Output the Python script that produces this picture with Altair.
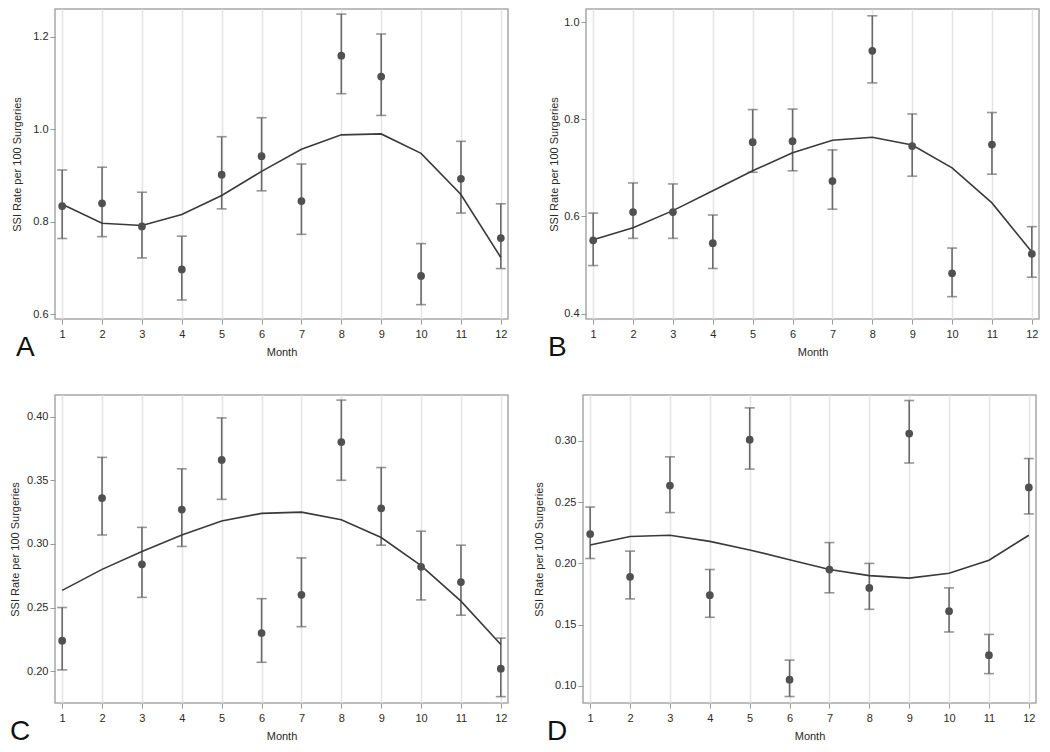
import altair as alt
import pandas as pd

months = list(range(1, 13))

# Panel A
a_rate = [0.834, 0.840, 0.790, 0.697, 0.902, 0.942, 0.845, 1.159, 1.114, 0.683, 0.893, 0.765]
a_lo = [0.764, 0.768, 0.722, 0.631, 0.828, 0.867, 0.773, 1.077, 1.030, 0.621, 0.819, 0.699]
a_hi = [0.912, 0.918, 0.864, 0.769, 0.984, 1.025, 0.925, 1.249, 1.206, 0.753, 0.974, 0.839]
a_fit = [0.838, 0.797, 0.792, 0.816, 0.857, 0.909, 0.957, 0.988, 0.990, 0.948, 0.859, 0.723]

# Panel B
b_rate = [0.551, 0.609, 0.609, 0.545, 0.753, 0.755, 0.673, 0.941, 0.745, 0.483, 0.748, 0.523]
b_lo = [0.499, 0.555, 0.555, 0.493, 0.691, 0.694, 0.615, 0.875, 0.683, 0.435, 0.687, 0.475]
b_hi = [0.607, 0.669, 0.667, 0.603, 0.820, 0.821, 0.737, 1.013, 0.811, 0.535, 0.814, 0.579]
b_fit = [0.552, 0.577, 0.612, 0.653, 0.694, 0.731, 0.757, 0.763, 0.747, 0.700, 0.628, 0.527]

# Panel C
c_rate = [0.224, 0.336, 0.284, 0.327, 0.366, 0.230, 0.260, 0.380, 0.328, 0.282, 0.270, 0.202]
c_lo = [0.201, 0.307, 0.258, 0.298, 0.335, 0.207, 0.235, 0.350, 0.299, 0.256, 0.244, 0.180]
c_hi = [0.250, 0.368, 0.313, 0.359, 0.399, 0.257, 0.289, 0.413, 0.360, 0.310, 0.299, 0.226]
c_fit = [0.2635, 0.280, 0.294, 0.307, 0.318, 0.324, 0.325, 0.319, 0.305, 0.283, 0.255, 0.221]

# Panel D
d_rate = [0.224, 0.189, 0.2635, 0.174, 0.301, 0.105, 0.195, 0.180, 0.306, 0.161, 0.125, 0.262]
d_lo = [0.204, 0.171, 0.2415, 0.156, 0.277, 0.0913, 0.176, 0.1625, 0.282, 0.144, 0.110, 0.2404]
d_hi = [0.246, 0.210, 0.287, 0.195, 0.327, 0.121, 0.217, 0.200, 0.333, 0.180, 0.142, 0.2856]
d_fit = [0.215, 0.222, 0.223, 0.218, 0.211, 0.203, 0.195, 0.190, 0.188, 0.192, 0.2026, 0.223]

FONT = "Liberation Sans"
W = 453


def panel(rate, lo, hi, fit, ydom, yticks, fmt, letter, letter_dx, ytp, H):
    df = pd.DataFrame({"month": months, "rate": rate, "lo": lo, "hi": hi, "fit": fit})
    x = alt.X(
        "month:Q",
        title="Month",
        scale=alt.Scale(domain=[0.82, 12.18], nice=False, zero=False),
        axis=alt.Axis(values=months, format="d", grid=True, labelFlush=False),
    )
    yscale = alt.Scale(domain=ydom, nice=False, zero=False)
    yaxis = alt.Axis(values=yticks, format=fmt, grid=False, titlePadding=ytp)
    base = alt.Chart(df).encode(x=x)
    rule = base.mark_rule(color="#6a6a6a", strokeWidth=1.6).encode(
        y=alt.Y("lo:Q", scale=yscale, axis=yaxis, title="SSI Rate per 100 Surgeries"),
        y2="hi:Q",
    )
    cap_lo = base.mark_tick(orient="horizontal", size=10, thickness=1.6, color="#6a6a6a").encode(
        y=alt.Y("lo:Q", scale=yscale)
    )
    cap_hi = base.mark_tick(orient="horizontal", size=10, thickness=1.6, color="#6a6a6a").encode(
        y=alt.Y("hi:Q", scale=yscale)
    )
    line = base.mark_line(color="#3a3a3a", strokeWidth=1.6).encode(y=alt.Y("fit:Q", scale=yscale))
    pts = base.mark_circle(size=60, color="#505050", opacity=1).encode(y=alt.Y("rate:Q", scale=yscale))
    lab = alt.Chart(pd.DataFrame({"t": [letter]})).mark_text(
        font=FONT, fontSize=28, color="#111111", align="left", baseline="alphabetic"
    ).encode(text="t:N", x=alt.value(letter_dx), y=alt.value(H + 37))
    return alt.layer(rule, cap_lo, cap_hi, line, pts, lab).properties(width=W, height=H)


pa = panel(a_rate, a_lo, a_hi, a_fit, [0.59, 1.26], [0.6, 0.8, 1.0, 1.2], ".1f", "A", -39, 10, 310)
pb = panel(b_rate, b_lo, b_hi, b_fit, [0.389, 1.027], [0.4, 0.6, 0.8, 1.0], ".1f", "B", -38, 4, 310)
pc = panel(c_rate, c_lo, c_hi, c_fit, [0.175, 0.417], [0.20, 0.25, 0.30, 0.35, 0.40], ".2f", "C", -45, 6, 308)
pd_ = panel(d_rate, d_lo, d_hi, d_fit, [0.086, 0.3375], [0.10, 0.15, 0.20, 0.25, 0.30], ".2f", "D", -36, 10, 308)

chart = alt.vconcat(
    alt.hconcat(pa, pb, spacing=38),
    alt.hconcat(pc, pd_, spacing=23),
    spacing=31,
).properties(padding=0).configure_view(
    stroke="#a8a8a8", strokeWidth=1.5
).configure_axis(
    labelFont=FONT, titleFont=FONT, labelFontSize=11, titleFontSize=11,
    labelColor="#2a2a2a", titleColor="#2a2a2a", titleFontWeight="normal",
    domain=False, tickColor="#999999", tickSize=5, tickWidth=1, labelPadding=2,
    titlePadding=5, gridColor="#e4e4e4", gridWidth=1.5,
).configure_axisX(
    labelPadding=4, titlePadding=7
)

chart.save("out.html", embed_options={"renderer": "svg", "actions": False})
